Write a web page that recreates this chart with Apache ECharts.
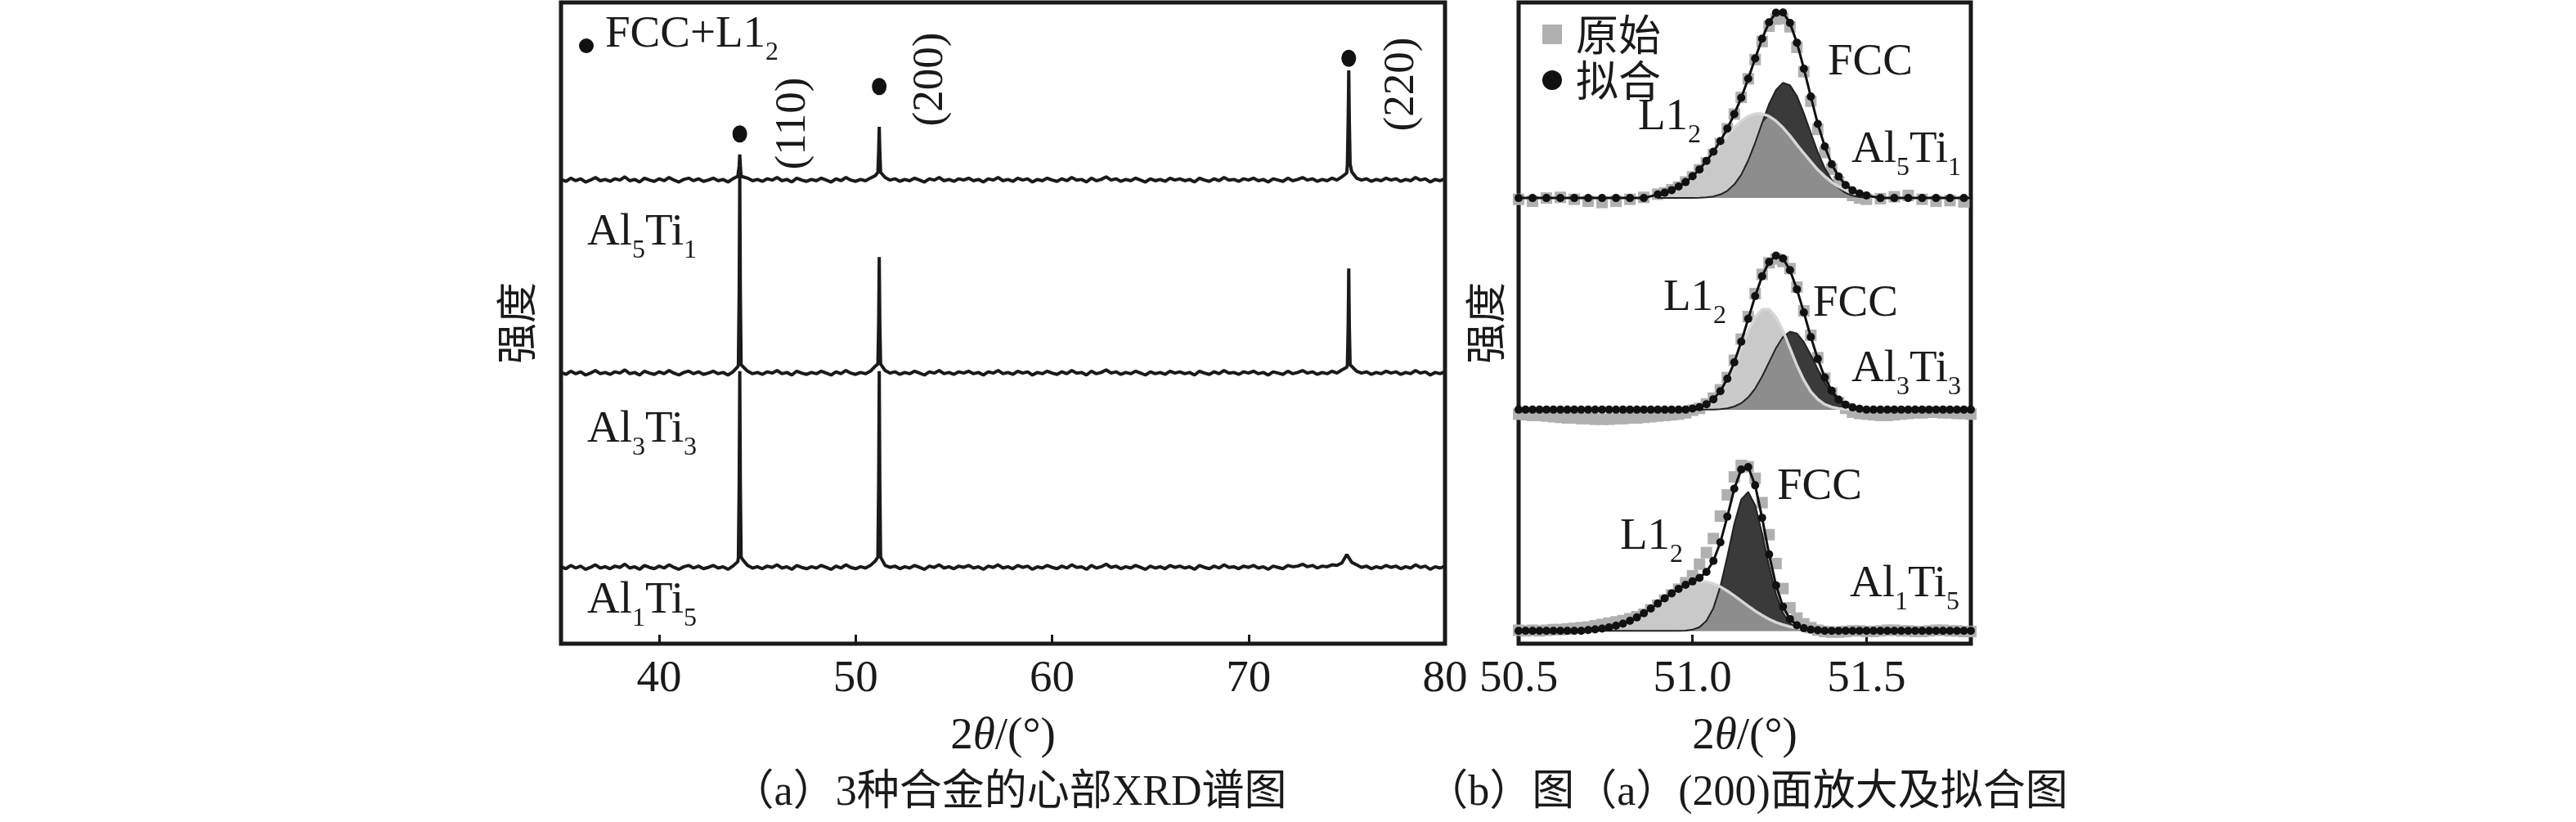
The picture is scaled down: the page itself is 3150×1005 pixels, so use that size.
<!DOCTYPE html>
<html><head><meta charset="utf-8">
<script src="https://cdn.jsdelivr.net/npm/echarts@6/dist/echarts.min.js"></script>
<style>html,body{margin:0;padding:0;background:#fff}#c{width:3150px;height:1005px}</style>
</head><body><div id="c"></div>
<script>
// ---------------- DATA: panel (a) XRD scans ----------------
const scanAngles = [
35,35.25,35.5,35.75,36,36.25,36.5,36.75,37,37.25,
37.5,37.75,38,38.25,38.5,38.75,39,39.25,39.5,39.75,
40,40.25,40.5,40.75,41,41.25,41.5,41.75,42,42.25,
42.5,42.75,43,43.25,43.5,43.75,44,44.25,44.5,44.75,
45,45.25,45.5,45.75,46,46.25,46.5,46.75,47,47.25,
47.5,47.75,48,48.25,48.5,48.75,49,49.25,49.5,49.75,
50,50.25,50.5,50.75,51,51.25,51.5,51.75,52,52.25,
52.5,52.75,53,53.25,53.5,53.75,54,54.25,54.5,54.75,
55,55.25,55.5,55.75,56,56.25,56.5,56.75,57,57.25,
57.5,57.75,58,58.25,58.5,58.75,59,59.25,59.5,59.75,
60,60.25,60.5,60.75,61,61.25,61.5,61.75,62,62.25,
62.5,62.75,63,63.25,63.5,63.75,64,64.25,64.5,64.75,
65,65.25,65.5,65.75,66,66.25,66.5,66.75,67,67.25,
67.5,67.75,68,68.25,68.5,68.75,69,69.25,69.5,69.75,
70,70.25,70.5,70.75,71,71.25,71.5,71.75,72,72.25,
72.5,72.75,73,73.25,73.5,73.75,74,74.25,74.5,74.75,
75,75.25,75.5,75.75,76,76.25,76.5,76.75,77,77.25,
77.5,77.75,78,78.25,78.5,78.75,79,79.25,79.5,79.75,
80];
const scanAl5Ti1 = [
72.4,72.1,72.6,72.2,72.5,72.0,72.3,72.7,72.2,72.4,
72.1,72.5,72.3,72.8,72.2,72.4,72.0,72.6,72.3,72.1,
72.5,72.2,72.7,72.3,72.0,72.4,72.6,72.2,72.5,72.1,
72.3,72.6,72.2,72.4,72.0,72.5,72.9,73.1,72.6,72.2,
72.4,72.1,72.5,72.3,72.7,72.2,72.4,72.0,72.6,72.3,
72.1,72.4,72.2,72.6,72.3,72.0,72.5,72.2,72.7,72.3,
72.1,72.4,72.2,72.6,73.0,73.2,72.7,72.3,72.5,72.1,
72.4,72.2,72.6,72.3,72.0,72.5,72.3,72.7,72.2,72.4,
72.1,72.5,72.3,72.6,72.2,72.4,72.0,72.5,72.3,72.7,
72.2,72.4,72.1,72.6,72.3,72.5,72.0,72.4,72.2,72.6,
72.3,72.1,72.5,72.2,72.7,72.3,72.4,72.0,72.6,72.2,
72.4,72.8,72.3,72.5,72.1,72.4,72.2,72.6,72.3,72.0,
72.5,72.2,72.4,72.1,72.6,72.3,72.5,72.2,72.4,72.0,
72.6,72.3,72.1,72.5,72.2,72.7,72.3,72.4,72.1,72.5,
72.3,72.6,72.2,72.4,72.0,72.5,72.3,72.1,72.6,72.2,
72.4,72.7,72.3,72.5,72.1,72.4,72.2,72.6,72.3,72.8,
73.4,73.6,72.6,72.3,72.5,72.1,72.4,72.2,72.6,72.3,
72.5,72.1,72.4,72.2,72.7,72.3,72.5,72.0,72.4,72.2,
72.5];
const scanAl3Ti3 = [
42.3,42.0,42.5,42.1,42.4,41.9,42.2,42.6,42.1,42.3,
42.0,42.4,42.2,42.7,42.1,42.3,41.9,42.5,42.2,42.0,
42.4,42.1,42.6,42.2,41.9,42.3,42.5,42.1,42.4,42.0,
42.2,42.5,42.1,42.3,41.9,42.4,43.2,43.5,42.5,42.1,
42.3,42.0,42.4,42.2,42.6,42.1,42.3,41.9,42.5,42.2,
42.0,42.3,42.1,42.5,42.2,41.9,42.4,42.1,42.6,42.2,
42.0,42.3,42.1,42.5,43.3,43.6,42.6,42.2,42.4,42.0,
42.3,42.1,42.5,42.2,41.9,42.4,42.2,42.6,42.1,42.3,
42.0,42.4,42.2,42.5,42.1,42.3,41.9,42.4,42.2,42.6,
42.1,42.3,42.0,42.5,42.2,42.4,41.9,42.3,42.1,42.5,
42.2,42.0,42.4,42.1,42.6,42.2,42.3,41.9,42.5,42.1,
42.3,42.7,42.2,42.4,42.0,42.3,42.1,42.5,42.2,41.9,
42.4,42.1,42.3,42.0,42.5,42.2,42.4,42.1,42.3,41.9,
42.5,42.2,42.0,42.4,42.1,42.6,42.2,42.3,42.0,42.4,
42.2,42.5,42.1,42.3,41.9,42.4,42.2,42.0,42.5,42.1,
42.3,42.6,42.2,42.4,42.0,42.3,42.1,42.5,42.2,42.7,
43.1,43.3,42.5,42.2,42.4,42.0,42.3,42.1,42.5,42.2,
42.4,42.0,42.3,42.1,42.6,42.2,42.4,41.9,42.3,42.1,
42.4];
const scanAl1Ti5 = [
12.0,11.7,12.2,11.8,12.1,11.6,11.9,12.3,11.8,12.0,
11.7,12.1,11.9,12.4,11.8,12.0,11.6,12.2,11.9,11.7,
12.1,11.8,12.3,11.9,11.6,12.0,12.2,11.8,12.1,11.7,
11.9,12.2,11.8,12.0,11.6,12.1,12.8,13.1,12.2,11.8,
12.0,11.7,12.1,11.9,12.3,11.8,12.0,11.6,12.2,11.9,
11.7,12.0,11.8,12.2,11.9,11.6,12.1,11.8,12.3,11.9,
11.7,12.0,11.8,12.2,12.9,13.2,12.2,11.9,12.1,11.7,
12.0,11.8,12.2,11.9,11.6,12.1,11.9,12.3,11.8,12.0,
11.7,12.1,11.9,12.2,11.8,12.0,11.6,12.1,11.9,12.3,
11.8,12.0,11.7,12.2,11.9,12.1,11.6,12.0,11.8,12.2,
11.9,11.7,12.1,11.8,12.3,11.9,12.0,11.6,12.2,11.8,
12.0,12.4,11.9,12.1,11.7,12.0,11.8,12.2,11.9,11.6,
12.1,11.8,12.0,11.7,12.2,11.9,12.1,11.8,12.0,11.6,
12.2,11.9,11.7,12.1,11.8,12.3,11.9,12.0,11.7,12.1,
11.9,12.2,11.8,12.0,11.6,12.1,11.9,11.7,12.2,12.0,
12.1,12.4,12.0,12.2,11.8,12.1,12.0,12.3,12.2,12.6,
13.9,12.7,12.3,11.9,12.1,11.7,12.0,11.8,12.2,11.9,
12.1,11.7,12.0,11.8,12.3,11.9,12.1,11.6,12.0,11.8,
12.1];
// sharp reflections (110), (200), (220): [2θ, intensity]
const peaksAl5Ti1 = [
  [[44.03,72.9],[44.07,74.5],[44.1,76.3],[44.13,74.5],[44.17,72.9]],
  [[51.13,73.5],[51.17,76.8],[51.2,80.6],[51.23,76.8],[51.27,73.5]],
  [[75.03,74.8],[75.07,81.5],[75.1,89.4],[75.13,81.5],[75.17,74.8]]];
const peaksAl3Ti3 = [
  [[44.03,43.5],[44.07,55.0],[44.1,73.0],[44.13,55.0],[44.17,43.5]],
  [[51.13,43.6],[51.17,50.0],[51.2,60.3],[51.23,50.0],[51.27,43.6]],
  [[75.03,43.5],[75.07,49.5],[75.1,58.5],[75.13,49.5],[75.17,43.5]]];
const peaksAl1Ti5 = [
  [[44.03,13.5],[44.07,25.0],[44.1,42.5],[44.13,25.0],[44.17,13.5]],
  [[51.13,13.5],[51.17,25.0],[51.2,42.5],[51.23,25.0],[51.27,13.5]]];
const phaseMarkers = [[44.1,79.5],[51.2,86.9],[75.1,91.3]];
const xrdTicks = [40,50,60,70];
const xrdLabels = [40,50,60,70,80];

// ---------------- DATA: panel (b) (200) peak fitting ----------------
const zoomTicks = [51.0,51.5];
const zoomLabels = [50.5,51.0,51.5];
const fitBaseAl5Ti1 = 69.5, fitBaseAl3Ti3 = 36.5, fitBaseAl1Ti5 = 2.0;
const rawAl5Ti1 = [
[50.50,69.3],[50.54,69.0],[50.58,69.5],[50.62,69.6],[50.66,69.3],[50.70,69.0],[50.74,68.8],[50.78,69.0],[50.82,69.3],[50.86,69.6],
[50.90,70.1],[50.92,70.3],[50.94,70.8],[50.96,71.2],[50.98,72.0],[51.00,72.8],[51.02,73.9],[51.04,75.0],[51.06,76.3],[51.08,78.0],
[51.10,80.3],[51.12,82.6],[51.14,85.2],[51.16,88.1],[51.18,91.1],[51.20,93.9],[51.22,96.3],[51.24,97.4],[51.26,97.5],[51.28,96.2],
[51.30,93.0],[51.32,89.2],[51.34,84.6],[51.36,80.2],[51.38,76.6],[51.40,74.0],[51.42,72.0],[51.44,70.6],[51.46,69.9],[51.48,69.5],
[51.50,69.3],[51.54,69.4],[51.58,69.7],[51.62,69.9],[51.66,69.3],[51.70,69.0],[51.74,69.1],[51.78,68.9],[51.82,69.0]];
const rawAl3Ti3 = [
[50.50,35.8],[50.52,35.7],[50.54,35.6],[50.56,35.6],[50.58,35.5],[50.60,35.4],[50.62,35.3],[50.64,35.2],[50.66,35.2],[50.68,35.1],
[50.70,35.1],[50.72,35.0],[50.74,35.0],[50.76,35.0],[50.78,35.1],[50.80,35.1],[50.82,35.2],[50.84,35.2],[50.86,35.3],[50.88,35.4],
[50.90,35.5],[50.92,35.6],[50.94,35.7],[50.96,35.8],[50.98,36.0],[51.00,36.4],[51.02,36.7],[51.04,37.4],[51.06,38.3],[51.08,39.6],
[51.10,41.5],[51.12,44.2],[51.14,47.5],[51.16,51.0],[51.18,54.6],[51.20,57.6],[51.22,59.4],[51.24,60.0],[51.26,59.6],[51.28,58.5],
[51.30,55.6],[51.32,51.9],[51.34,48.1],[51.36,44.6],[51.38,41.4],[51.40,39.1],[51.42,37.6],[51.44,36.7],[51.46,36.1],[51.48,35.9],
[51.50,35.8],[51.52,35.7],[51.54,35.6],[51.56,35.6],[51.58,35.7],[51.60,35.8],[51.62,35.9],[51.64,36.0],[51.66,36.0],[51.68,36.1],
[51.70,36.1],[51.72,36.0],[51.74,36.0],[51.76,35.9],[51.78,35.9],[51.80,35.8]];
const rawAl1Ti5 = [
[50.50,2.1],[50.52,2.0],[50.54,2.1],[50.56,2.0],[50.58,2.1],[50.60,2.2],[50.62,2.2],[50.64,2.3],[50.66,2.4],[50.68,2.5],
[50.70,2.6],[50.72,2.8],[50.74,3.0],[50.76,3.2],[50.78,3.4],[50.80,3.6],[50.82,3.9],[50.84,4.2],[50.86,4.6],[50.88,5.3],
[50.90,6.0],[50.92,6.8],[50.94,7.6],[50.96,8.5],[50.98,9.5],[51.00,10.6],[51.02,12.4],[51.04,14.2],[51.06,16.4],[51.08,19.9],
[51.10,23.2],[51.12,26.0],[51.14,27.8],[51.16,27.6],[51.18,25.8],[51.20,22.0],[51.22,17.0],[51.24,12.5],[51.26,8.6],[51.28,5.6],
[51.30,4.0],[51.32,3.1],[51.34,2.5],[51.36,2.1],[51.38,1.9],[51.40,1.8],[51.42,1.8],[51.44,1.9],[51.46,2.0],[51.48,2.0],
[51.50,1.9],[51.52,1.9],[51.54,2.0],[51.56,2.1],[51.58,2.1],[51.60,2.0],[51.62,2.0],[51.64,1.9],[51.66,1.9],[51.68,2.0],
[51.70,2.1],[51.72,2.1],[51.74,2.0],[51.76,2.0],[51.78,1.9],[51.80,1.9]];
// fitted components (height above fit baseline)
const compXAl5Ti1 = [50.90,50.92,50.94,50.96,50.98,51.00,51.02,51.04,51.06,51.08,51.10,51.12,51.14,51.16,51.18,51.20,51.22,51.24,51.26,51.28,51.30,51.32,51.34,51.36,51.38,51.40,51.42,51.44,51.46,51.48,51.50];
const l12Al5Ti1 = [0.55,0.83,1.24,1.79,2.48,3.38,4.41,5.67,6.97,8.33,9.72,10.97,12.02,12.76,13.15,13.15,12.76,12.02,10.97,9.72,8.33,6.97,5.67,4.41,3.38,2.48,1.79,1.24,0.83,0.55,0.35];
const fccAl5Ti1 = [0,0,0,0,0.01,0.02,0.05,0.11,0.25,0.55,1.12,2.11,3.63,5.85,8.62,11.7,14.65,16.87,17.96,17.6,15.9,13.2,10.15,7.14,4.68,2.79,1.56,0.79,0.37,0.16,0.06];
const compXAl3Ti3 = [51.00,51.02,51.04,51.06,51.08,51.10,51.12,51.14,51.16,51.18,51.20,51.22,51.24,51.26,51.28,51.30,51.32,51.34,51.36,51.38,51.40,51.42,51.44,51.46,51.48];
const l12Al3Ti3 = [0.17,0.40,0.83,1.60,2.80,4.61,6.89,9.59,12.24,14.41,15.64,15.64,14.41,12.24,9.59,6.89,4.61,2.80,1.60,0.83,0.40,0.17,0.07,0.03,0.01];
const fccAl3Ti3 = [0,0,0.01,0.02,0.07,0.21,0.49,1.01,1.92,3.29,5.17,7.40,9.62,11.33,12.16,11.88,10.54,8.53,6.31,4.18,2.54,1.40,0.71,0.32,0.13];
const compXAl1Ti5 = [50.70,50.72,50.74,50.76,50.78,50.80,50.82,50.84,50.86,50.88,50.90,50.92,50.94,50.96,50.98,51.00,51.02,51.04,51.06,51.08,51.10,51.12,51.14,51.16,51.18,51.20,51.22,51.24,51.26,51.28,51.30,51.32,51.34,51.36];
const l12Al1Ti5 = [0.14,0.23,0.36,0.54,0.80,1.13,1.57,2.10,2.75,3.48,4.27,5.08,5.86,6.56,7.13,7.52,7.69,7.64,7.36,6.87,6.23,5.47,4.67,3.88,3.10,2.43,1.82,1.34,0.96,0.65,0.44,0.28,0.18,0.11];
const fccAl1Ti5 = [0,0,0,0,0,0,0,0,0,0,0,0,0,0,0.05,0.19,0.58,1.56,3.56,6.94,11.59,16.69,20.5,21.66,19.6,15.2,10.1,5.74,2.82,1.19,0.43,0.13,0.03,0];

// ---------------- BUILD ----------------
const SERIF = '"Liberation Serif", "Noto Sans CJK SC", serif';
const CJK = '"Noto Sans CJK SC", sans-serif';
const INK = '#1a1a1a';

function buildScan(values, peakGroups) {
  const pts = [];
  scanAngles.forEach((x, i) => {
    const inPeak = peakGroups.some(g => x >= g[0][0] && x <= g[g.length - 1][0]);
    if (!inPeak) pts.push([x, values[i]]);
  });
  peakGroups.forEach(g => g.forEach(p => pts.push(p)));
  pts.sort((a, b) => a[0] - b[0]);
  return pts;
}
const series = [];
[[scanAl5Ti1, peaksAl5Ti1], [scanAl3Ti3, peaksAl3Ti3], [scanAl1Ti5, peaksAl1Ti5]].forEach(([v, p]) => {
  series.push({type: 'line', xAxisIndex: 0, yAxisIndex: 0, data: buildScan(v, p), symbol: 'none',
    lineStyle: {color: INK, width: 4}, silent: true});
});
series.push({type: 'scatter', xAxisIndex: 0, yAxisIndex: 0, data: phaseMarkers, symbol: 'circle',
  symbolSize: [18, 21], itemStyle: {color: '#111', opacity: 1}, silent: true});

const panels = [
  {base: fitBaseAl5Ti1, raw: rawAl5Ti1, cx: compXAl5Ti1, l12: l12Al5Ti1, fcc: fccAl5Ti1},
  {base: fitBaseAl3Ti3, raw: rawAl3Ti3, cx: compXAl3Ti3, l12: l12Al3Ti3, fcc: fccAl3Ti3},
  {base: fitBaseAl1Ti5, raw: rawAl1Ti5, cx: compXAl1Ti5, l12: l12Al1Ti5, fcc: fccAl1Ti5}];
const fitSeries = [], rawSeries = [];
panels.forEach(p => {
  const common = {type: 'line', xAxisIndex: 1, yAxisIndex: 1, symbol: 'none', silent: true};
  series.push(Object.assign({}, common, {data: p.cx.map((x, i) => [x, p.base + p.l12[i]]),
    lineStyle: {width: 0}, areaStyle: {color: '#c9c9c9', opacity: 1, origin: p.base}}));
  series.push(Object.assign({}, common, {data: p.cx.map((x, i) => [x, p.base + p.fcc[i]]),
    lineStyle: {color: '#222', width: 2}, areaStyle: {color: '#3a3a3a', opacity: 1, origin: p.base}}));
  series.push(Object.assign({}, common, {data: p.cx.map((x, i) => [x, p.base + Math.min(p.l12[i], p.fcc[i])]),
    lineStyle: {width: 0}, areaStyle: {color: '#8d8d8d', opacity: 1, origin: p.base}}));
  series.push(Object.assign({}, common, {data: p.cx.map((x, i) => [x, p.base + p.l12[i]]),
    lineStyle: {color: '#d6d6d6', width: 3.5}}));
  const key = x => x.toFixed(2);
  const lm = {}, fm = {};
  p.cx.forEach((x, i) => { lm[key(x)] = p.l12[i]; fm[key(x)] = p.fcc[i]; });
  fitSeries.push({type: 'line', name: '拟合', xAxisIndex: 1, yAxisIndex: 1, silent: true,
    data: p.raw.map(r => [r[0], p.base + (lm[key(r[0])] || 0) + (fm[key(r[0])] || 0)]),
    symbol: 'circle', symbolSize: 10, itemStyle: {color: '#111', opacity: 1}, lineStyle: {color: '#111', width: 3}});
  rawSeries.push({type: 'scatter', name: '原始', xAxisIndex: 1, yAxisIndex: 1, silent: true,
    data: p.raw, symbol: 'rect', symbolSize: 14, itemStyle: {color: '#b0b0b0', opacity: 1}});
});
fitSeries.forEach(s => series.push(s));
rawSeries.forEach(s => series.push(s));

const rich = {
  n: {fontSize: 55, fontFamily: SERIF, lineHeight: 62, verticalAlign: 'top', fill: INK, color: INK},
  s: {fontSize: 32, fontFamily: SERIF, lineHeight: 32, padding: [34, 0, 0, 0], verticalAlign: 'top', fill: INK, color: INK}
};
function label(x, y, text) {
  return {type: 'text', x: x, y: y, silent: true,
    style: {text: text, rich: rich, fill: INK, align: 'left', verticalAlign: 'top', font: '55px ' + SERIF}};
}
function vlabel(cx, cy, text) {
  return {type: 'text', x: cx, y: cy, rotation: Math.PI / 2, silent: true,
    style: {text: text, fill: INK, align: 'center', verticalAlign: 'middle', font: '53px ' + SERIF}};
}
function caption(cx, cy, text) {
  return {type: 'text', x: cx, y: cy, silent: true,
    style: {text: text, fill: INK, align: 'center', verticalAlign: 'middle', font: '52px ' + SERIF}};
}
const graphic = [
  {type: 'circle', shape: {cx: 717, cy: 56, r: 9}, style: {fill: '#111'}, silent: true},
  label(740, 15, '{n|FCC+L1}{s|2}'),
  label(718, 257, '{n|Al}{s|5}{n|Ti}{s|1}'),
  label(718, 498, '{n|Al}{s|3}{n|Ti}{s|3}'),
  label(718, 707, '{n|Al}{s|1}{n|Ti}{s|5}'),
  vlabel(970, 151, '(110)'),
  vlabel(1138, 97, '(200)'),
  vlabel(1714, 103, '(220)'),
  label(2235, 49, '{n|FCC}'),
  label(2003, 116, '{n|L1}{s|2}'),
  label(2264, 156, '{n|Al}{s|5}{n|Ti}{s|1}'),
  label(2034, 337, '{n|L1}{s|2}'),
  label(2217, 344, '{n|FCC}'),
  label(2264, 424, '{n|Al}{s|3}{n|Ti}{s|3}'),
  label(2173, 568, '{n|FCC}'),
  label(1981, 629, '{n|L1}{s|2}'),
  label(2262, 687, '{n|Al}{s|1}{n|Ti}{s|5}'),
  caption(1234, 970, '（a）3种合金的心部XRD谱图'),
  caption(2136, 970, '（b）图（a）(200)面放大及拟合图')
];

function xAxisCfg(grid, min, max, ticks, labels, fmt) {
  return {type: 'value', gridIndex: grid, min: min, max: max,
    axisLine: {show: false},
    axisTick: {show: true, inside: true, length: 11, lineStyle: {color: INK, width: 3}, customValues: ticks},
    axisLabel: {customValues: labels, fontSize: 55, fontFamily: SERIF, color: INK, margin: 16, formatter: fmt},
    splitLine: {show: false},
    name: '2{i|θ}/(°)', nameLocation: 'middle', nameGap: 86,
    nameTextStyle: {fontSize: 55, fontFamily: SERIF, color: INK,
      rich: {i: {fontStyle: 'italic', fontSize: 55, fontFamily: SERIF, color: INK}}}};
}
function yAxisCfg(grid, gap) {
  return {type: 'value', gridIndex: grid, min: 0, max: 100,
    axisLine: {show: false}, axisTick: {show: false}, axisLabel: {show: false}, splitLine: {show: false},
    name: '强度', nameLocation: 'middle', nameRotate: 90, nameGap: gap,
    nameTextStyle: {fontSize: 50, fontFamily: CJK, color: INK}};
}

const chart = echarts.init(document.getElementById('c'), null, {renderer: 'canvas'});
chart.setOption({
  animation: false,
  backgroundColor: '#fff',
  grid: [
    {left: 686, top: 3, width: 1081, height: 784, show: true, borderColor: INK, borderWidth: 5, backgroundColor: 'transparent'},
    {left: 1857, top: 3, width: 553, height: 784, show: true, borderColor: INK, borderWidth: 5, backgroundColor: 'transparent'}
  ],
  xAxis: [
    xAxisCfg(0, 35, 80, xrdTicks, xrdLabels, v => String(v)),
    xAxisCfg(1, 50.5, 51.8, zoomTicks, zoomLabels, v => v.toFixed(1))
  ],
  yAxis: [yAxisCfg(0, 30), yAxisCfg(1, 16)],
  legend: {
    data: [{name: '原始', icon: 'rect', itemStyle: {color: '#b0b0b0'}},
           {name: '拟合', icon: 'circle', itemStyle: {color: '#111'}}],
    orient: 'vertical', left: 1881, top: 11, itemWidth: 24, itemHeight: 24, itemGap: 4,
    selectedMode: false,
    textStyle: {fontSize: 52, fontFamily: CJK, color: INK, lineHeight: 50, padding: [0, 0, 0, 12]}
  },
  series: series,
  graphic: graphic
});
</script></body></html>
